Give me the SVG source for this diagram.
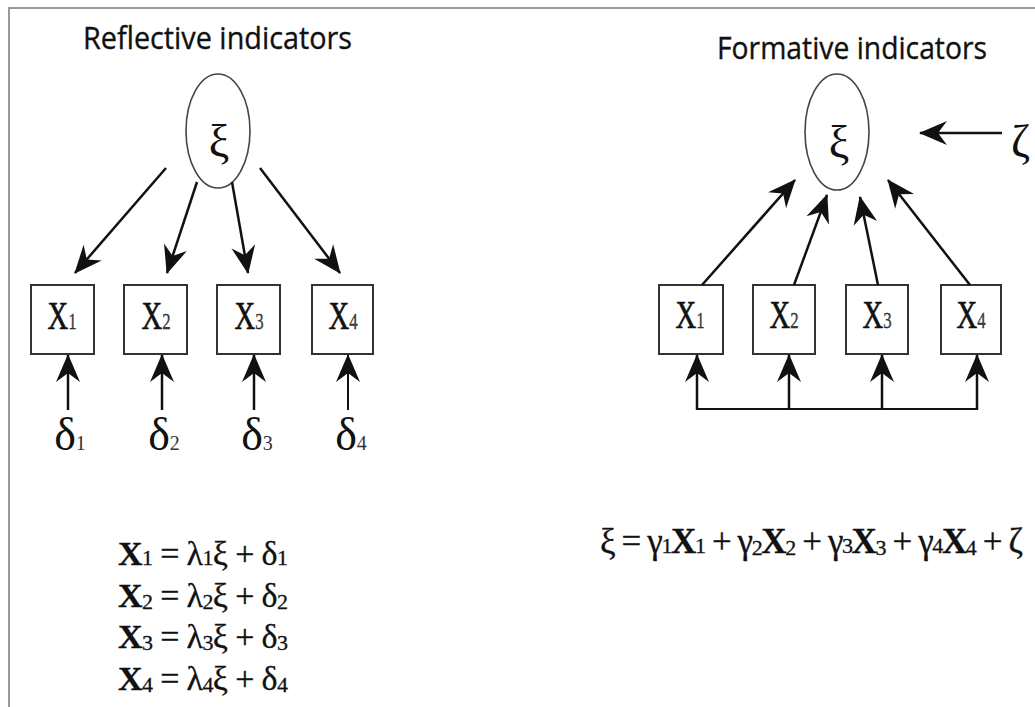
<svg xmlns="http://www.w3.org/2000/svg" width="1035" height="707" viewBox="0 0 1035 707">
<style>
.frame{fill:none;stroke:#999;stroke-width:2}
.title{font-family:"Open Sans","Liberation Sans",sans-serif;font-size:31px;fill:#111;stroke:#111;stroke-width:0.35}
.ell{fill:#fff;stroke:#444;stroke-width:1.6}
.box{fill:#fff;stroke:#333;stroke-width:2}
.greek{font-family:"Liberation Serif","DejaVu Serif",serif;font-size:46px;fill:#111}
.xl{font-family:"Liberation Serif",serif;font-size:41px;fill:#111;stroke:#111;stroke-width:0.7}
.sub{font-size:24px;fill:#444;stroke-width:0.3}
.dsub{font-size:20px;fill:#333}
.eq{font-family:"Liberation Serif",serif;font-size:34px;fill:#111;stroke:#111;stroke-width:0.3}
.b{font-weight:bold}
.s{font-size:22px}
.conn{fill:none;stroke:#111;stroke-width:2.5}
</style>
<defs>
<marker id="ah" viewBox="-30 -14 32 28" refX="0" refY="0" markerWidth="32" markerHeight="28" markerUnits="userSpaceOnUse" orient="auto">
<path d="M1,0 L-27,-12 L-18,0 L-27,12 Z" fill="#111"/>
</marker>
</defs>
<rect width="1035" height="707" fill="#fff"/>
<path class="frame" d="M9,707 V8 H1035"/>

<text class="title" x="83" y="49" textLength="269" lengthAdjust="spacingAndGlyphs">Reflective indicators</text>
<text class="title" x="717" y="59" textLength="270" lengthAdjust="spacingAndGlyphs">Formative indicators</text>

<g id="xi-left">
<ellipse class="ell" cx="218" cy="131" rx="32" ry="57"/>
<text class="greek" x="219" y="157" text-anchor="middle">ξ</text>
</g>
<g id="xi-right">
<ellipse class="ell" cx="837" cy="132" rx="32" ry="58"/>
<text class="greek" x="839" y="158" text-anchor="middle">ξ</text>
</g>
<g id="zeta">
<text class="greek" x="1011" y="157">ζ</text>
</g>

<g id="L-X1"><rect class="box" x="31" y="285" width="63" height="69"/><text class="xl" transform="translate(62,329) scale(0.7,1)" text-anchor="middle">X<tspan class="sub">1</tspan></text></g>
<g id="L-X2"><rect class="box" x="124" y="285" width="63" height="69"/><text class="xl" transform="translate(156,329) scale(0.7,1)" text-anchor="middle">X<tspan class="sub">2</tspan></text></g>
<g id="L-X3"><rect class="box" x="217" y="285" width="63" height="69"/><text class="xl" transform="translate(249,329) scale(0.7,1)" text-anchor="middle">X<tspan class="sub">3</tspan></text></g>
<g id="L-X4"><rect class="box" x="312" y="285" width="61" height="69"/><text class="xl" transform="translate(343,329) scale(0.7,1)" text-anchor="middle">X<tspan class="sub">4</tspan></text></g>

<g id="d1"><text class="greek" x="70" y="450" text-anchor="middle">δ<tspan class="dsub">1</tspan></text></g>
<g id="d2"><text class="greek" x="164" y="450" text-anchor="middle">δ<tspan class="dsub">2</tspan></text></g>
<g id="d3"><text class="greek" x="257" y="450" text-anchor="middle">δ<tspan class="dsub">3</tspan></text></g>
<g id="d4"><text class="greek" x="351" y="450" text-anchor="middle">δ<tspan class="dsub">4</tspan></text></g>

<g id="R-X1"><rect class="box" x="659" y="285" width="64" height="69"/><text class="xl" transform="translate(690,328) scale(0.7,1)" text-anchor="middle">X<tspan class="sub">1</tspan></text></g>
<g id="R-X2"><rect class="box" x="753" y="285" width="62" height="69"/><text class="xl" transform="translate(784,328) scale(0.7,1)" text-anchor="middle">X<tspan class="sub">2</tspan></text></g>
<g id="R-X3"><rect class="box" x="846" y="285" width="62" height="69"/><text class="xl" transform="translate(877,328) scale(0.7,1)" text-anchor="middle">X<tspan class="sub">3</tspan></text></g>
<g id="R-X4"><rect class="box" x="941" y="285" width="60" height="69"/><text class="xl" transform="translate(971,328) scale(0.7,1)" text-anchor="middle">X<tspan class="sub">4</tspan></text></g>

<g id="connectors">
<line class="conn" x1="166" y1="168" x2="75" y2="273" marker-end="url(#ah)"/>
<line class="conn" x1="197" y1="182" x2="167" y2="273" marker-end="url(#ah)"/>
<line class="conn" x1="232" y1="182" x2="248" y2="273" marker-end="url(#ah)"/>
<line class="conn" x1="260" y1="168" x2="340" y2="273" marker-end="url(#ah)"/>
<line class="conn" x1="68" y1="410" x2="68" y2="355" marker-end="url(#ah)"/>
<line class="conn" x1="162" y1="410" x2="162" y2="355" marker-end="url(#ah)"/>
<line class="conn" x1="254" y1="410" x2="254" y2="355" marker-end="url(#ah)"/>
<line class="conn" x1="348" y1="410" x2="348" y2="355" marker-end="url(#ah)" style="stroke-width:2"/>
<line class="conn" x1="702" y1="285" x2="795" y2="180" marker-end="url(#ah)"/>
<line class="conn" x1="794" y1="285" x2="827" y2="195" marker-end="url(#ah)"/>
<line class="conn" x1="878" y1="285" x2="860" y2="197" marker-end="url(#ah)"/>
<line class="conn" x1="970" y1="285" x2="888" y2="180" marker-end="url(#ah)"/>
<line class="conn" x1="1002" y1="133" x2="920" y2="133" marker-end="url(#ah)"/>
<path class="conn" d="M697,409 H977" style="stroke-width:2"/>
<line class="conn" x1="697" y1="410" x2="697" y2="355" marker-end="url(#ah)"/>
<line class="conn" x1="789" y1="410" x2="789" y2="355" marker-end="url(#ah)"/>
<line class="conn" x1="882" y1="410" x2="882" y2="355" marker-end="url(#ah)"/>
<line class="conn" x1="977" y1="410" x2="977" y2="355" marker-end="url(#ah)"/>
</g>

<g id="eq-left">
<text class="eq" x="118" y="565" textLength="170"><tspan class="b">X</tspan><tspan class="s">1</tspan> = λ<tspan class="s">1</tspan>ξ + δ<tspan class="s">1</tspan></text>
<text class="eq" x="118" y="607" textLength="170"><tspan class="b">X</tspan><tspan class="s" dy="2">2</tspan><tspan dy="-2"> = λ</tspan><tspan class="s" dy="2">2</tspan><tspan dy="-2">ξ + δ</tspan><tspan class="s" dy="2">2</tspan></text>
<text class="eq" x="118" y="648" textLength="170"><tspan class="b">X</tspan><tspan class="s" dy="2">3</tspan><tspan dy="-2"> = λ</tspan><tspan class="s" dy="2">3</tspan><tspan dy="-2">ξ + δ</tspan><tspan class="s" dy="2">3</tspan></text>
<text class="eq" x="118" y="690" textLength="170"><tspan class="b">X</tspan><tspan class="s" dy="2">4</tspan><tspan dy="-2"> = λ</tspan><tspan class="s" dy="2">4</tspan><tspan dy="-2">ξ + δ</tspan><tspan class="s" dy="2">4</tspan></text>
</g>
<g id="eq-right">
<text class="eq" x="600" y="553" textLength="423" style="font-size:35px">ξ = γ<tspan class="s">1</tspan><tspan class="b">X</tspan><tspan class="s">1</tspan> + γ<tspan class="s" dy="2">2</tspan><tspan class="b" dy="-2">X</tspan><tspan class="s" dy="2">2</tspan><tspan dy="-2"> + γ</tspan><tspan class="s">3</tspan><tspan class="b">X</tspan><tspan class="s" dy="2">3</tspan><tspan dy="-2"> + γ</tspan><tspan class="s">4</tspan><tspan class="b">X</tspan><tspan class="s" dy="2">4</tspan><tspan dy="-2"> + ζ</tspan></text>
</g>
</svg>
